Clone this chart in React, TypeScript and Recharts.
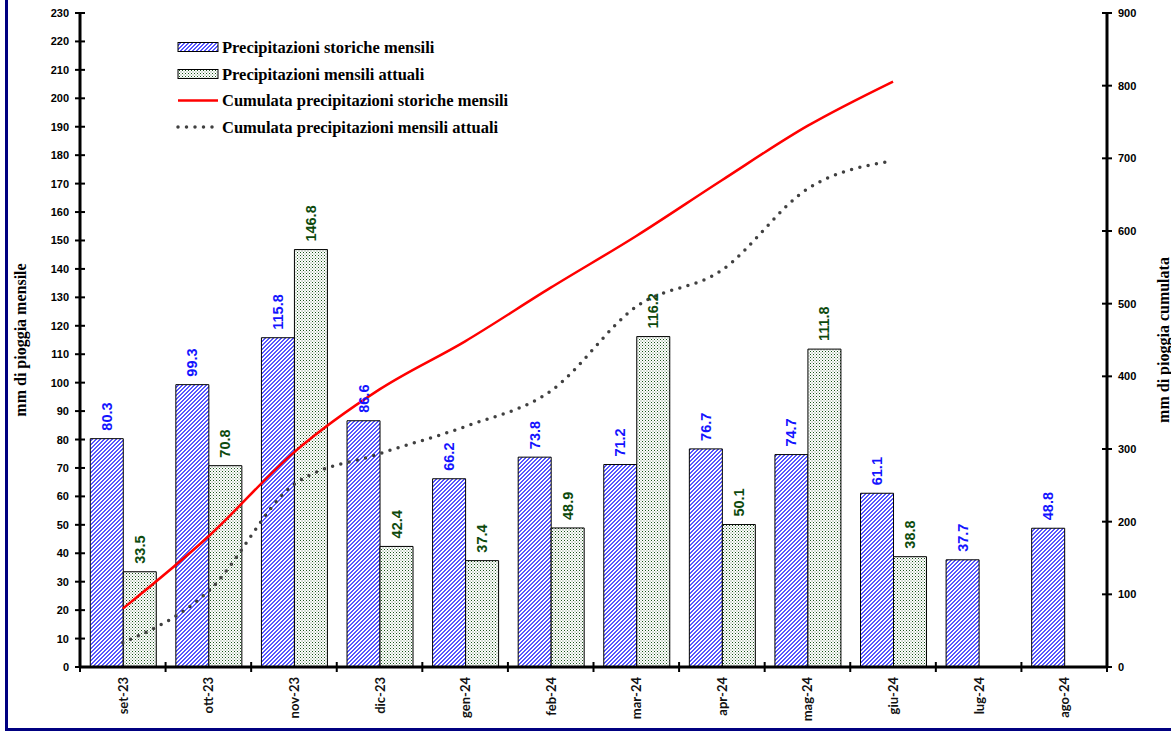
import { ComposedChart, Bar, Line, XAxis, YAxis, Legend, LabelList } from "recharts";

// dati mensili (mm)
const months = ["set-23", "ott-23", "nov-23", "dic-23", "gen-24", "feb-24", "mar-24", "apr-24", "mag-24", "giu-24", "lug-24", "ago-24"];
const storiche = [80.3, 99.3, 115.8, 86.6, 66.2, 73.8, 71.2, 76.7, 74.7, 61.1, 37.7, 48.8];
const attuali = [33.5, 70.8, 146.8, 42.4, 37.4, 48.9, 116.2, 50.1, 111.8, 38.8, null, null];
// cumulate (mm)
const cumStoriche = [80.3, 179.6, 295.4, 382.0, 448.2, 522.0, 593.2, 669.9, 744.6, 805.7, null, null];
const cumAttuali = [33.5, 104.3, 251.1, 293.5, 330.9, 379.8, 496.0, 546.1, 657.9, 696.7, null, null];

const leftTicks = [0, 10, 20, 30, 40, 50, 60, 70, 80, 90, 100, 110, 120, 130, 140, 150, 160, 170, 180, 190, 200, 210, 220, 230];
const rightTicks = [0, 100, 200, 300, 400, 500, 600, 700, 800, 900];

const legendItems = [
  "Precipitazioni storiche mensili",
  "Precipitazioni mensili attuali",
  "Cumulata precipitazioni storiche mensili",
  "Cumulata precipitazioni mensili attuali",
];

const W = 1171;
const H = 734;
const PLOT_L = 80;
const PLOT_R = 1107;
const PLOT_T = 13;
const PLOT_B = 667;
const BAND = (PLOT_R - PLOT_L) / months.length;

// pixel della trama diagonale "/" (cella 4x4)
const HATCH_PX = [[0, 2], [0, 3], [1, 1], [1, 2], [2, 0], [2, 1], [3, 0], [3, 3]];

const data = months.map((m, i) => ({
  month: m,
  storiche: storiche[i],
  attuali: attuali[i],
  cumS: cumStoriche[i],
  cumA: cumAttuali[i],
}));

const tickFont = { fontFamily: "'Liberation Sans', Arial, sans-serif", fontSize: 11, fontWeight: 700, fill: "#000" };

const LeftTick = (props: any) => {
  const { y, payload } = props;
  return (
    <g>
      <line x1={PLOT_L - 5} x2={PLOT_L + 5} y1={y} y2={y} stroke="#000" strokeWidth={2} />
      <text x={PLOT_L - 11} y={y} textAnchor="end" dominantBaseline="central" {...tickFont}>
        {payload.value}
      </text>
    </g>
  );
};

const RightTick = (props: any) => {
  const { y, payload } = props;
  return (
    <g>
      <line x1={PLOT_R - 5} x2={PLOT_R + 5} y1={y} y2={y} stroke="#000" strokeWidth={2} />
      <text x={PLOT_R + 11} y={y} textAnchor="start" dominantBaseline="central" {...tickFont}>
        {payload.value}
      </text>
    </g>
  );
};

const MonthTick = (props: any) => {
  const { x, payload } = props;
  const half = BAND / 2;
  const last = payload.value === months[months.length - 1];
  return (
    <g>
      <line x1={x - half} x2={x - half} y1={PLOT_B - 5} y2={PLOT_B + 5} stroke="#000" strokeWidth={2} />
      {last && <line x1={x + half} x2={x + half} y1={PLOT_B - 5} y2={PLOT_B + 5} stroke="#000" strokeWidth={2} />}
      <text
        transform={`translate(${x},${PLOT_B + 10}) rotate(-90)`}
        textAnchor="end"
        dominantBaseline="central"
        fontFamily="Lato, sans-serif"
        fontSize={13}
        fontWeight={700}
        fill="#111"
      >
        {payload.value}
      </text>
    </g>
  );
};

const makeValueLabel = (color: string) => (props: any) => {
  const { x, y, width, value } = props;
  if (value == null) return null;
  const cx = Number(x) + Number(width) / 2;
  const cy = Number(y) - 8;
  return (
    <text
      transform={`translate(${cx},${cy}) rotate(-90)`}
      textAnchor="start"
      dominantBaseline="central"
      fontFamily="'Liberation Sans', Arial, sans-serif"
      fontSize={14.5}
      fontWeight={700}
      fill={color}
    >
      {Number(value).toFixed(1)}
    </text>
  );
};

const serif = { fontFamily: "'Liberation Serif', 'Times New Roman', serif", fontWeight: 700, fill: "#000" };

// legenda in alto a sinistra
const LegendBox = () => {
  const rows = [13, 40, 66.5, 93];
  return (
    <svg width={400} height={110} style={{ display: "block" }}>
      <rect x={8} y={rows[0] - 4.5} width={40} height={9} fill="url(#hatchBlue)" stroke="#000" strokeWidth={1} />
      <rect x={8} y={rows[1] - 4.5} width={40} height={9} fill="url(#dotGreen)" stroke="#000" strokeWidth={1} />
      <line x1={8} x2={48} y1={rows[2]} y2={rows[2]} stroke="#ff0000" strokeWidth={2.5} />
      <line x1={8} x2={46} y1={rows[3]} y2={rows[3]} stroke="#404040" strokeWidth={3.5} strokeDasharray="0 8.5" strokeLinecap="round" />
      {legendItems.map((t, i) => (
        <text key={t} x={52} y={rows[i]} dominantBaseline="central" fontSize={16.5} {...serif}>
          {t}
        </text>
      ))}
    </svg>
  );
};

export default function App() {
  return (
    <div style={{ position: "absolute", left: 0, top: 0, width: W, height: H, overflow: "hidden", background: "#fff" }}>
      <div
        style={{
          position: "absolute",
          left: 5,
          top: -20,
          width: W + 40,
          height: H + 17,
          border: "3px solid #000080",
          boxSizing: "border-box",
        }}
      />
      <div style={{ position: "absolute", left: 0, top: 0 }}>
        <ComposedChart
          width={W}
          height={H}
          data={data}
          margin={{ top: PLOT_T, right: 0, bottom: 0, left: 0 }}
          barCategoryGap="12%"
          barGap={0}
        >
          <defs>
            <pattern id="hatchBlue" patternUnits="userSpaceOnUse" width={4} height={4}>
              <rect width={4} height={4} fill="#fff" />
              {HATCH_PX.map(([px, py]) => (
                <rect key={`${px}-${py}`} x={px} y={py} width={1} height={1} fill="#5656ff" shapeRendering="crispEdges" />
              ))}
            </pattern>
            <pattern id="dotGreen" patternUnits="userSpaceOnUse" width={3} height={3}>
              <rect width={3} height={3} fill="#fff" />
              <rect x={0} y={0} width={1} height={1} fill="#185218" />
              <rect x={1.5} y={1.5} width={1} height={1} fill="#5f835f" />
            </pattern>
          </defs>

          <XAxis
            dataKey="month"
            interval={0}
            height={H - PLOT_B}
            tickLine={false}
            tick={MonthTick}
            axisLine={{ stroke: "#000", strokeWidth: 3 }}
          />
          <YAxis
            yAxisId="left"
            width={PLOT_L}
            domain={[0, 230]}
            ticks={leftTicks}
            interval={0}
            tickLine={false}
            tick={LeftTick}
            axisLine={{ stroke: "#000", strokeWidth: 3 }}
            label={{ value: "mm di pioggia mensile", angle: -90, position: "center", dx: -20, fontSize: 16, ...serif }}
          />
          <YAxis
            yAxisId="right"
            orientation="right"
            width={W - PLOT_R}
            domain={[0, 900]}
            ticks={rightTicks}
            interval={0}
            tickLine={false}
            tick={RightTick}
            axisLine={{ stroke: "#000", strokeWidth: 3 }}
            label={{ value: "mm di pioggia cumulata", angle: -90, position: "center", dx: 24, fontSize: 16, ...serif }}
          />

          <Legend
            layout="vertical"
            align="center"
            verticalAlign="middle"
            wrapperStyle={{ left: 170, top: 34, width: 400, height: 110 }}
            content={LegendBox}
          />

          <Bar yAxisId="left" dataKey="storiche" fill="url(#hatchBlue)" stroke="#000" strokeWidth={1} isAnimationActive={false}>
            <LabelList dataKey="storiche" content={makeValueLabel("#1414ff")} />
          </Bar>
          <Bar yAxisId="left" dataKey="attuali" fill="url(#dotGreen)" stroke="#000" strokeWidth={1} isAnimationActive={false}>
            <LabelList dataKey="attuali" content={makeValueLabel("#0d4a0d")} />
          </Bar>

          <Line
            yAxisId="right"
            type="monotone"
            dataKey="cumS"
            stroke="#ff0000"
            strokeWidth={2.5}
            dot={false}
            activeDot={false}
            isAnimationActive={false}
          />
          <Line
            yAxisId="right"
            type="monotone"
            dataKey="cumA"
            stroke="#404040"
            strokeWidth={3.5}
            strokeDasharray="0 8.5"
            strokeLinecap="round"
            dot={false}
            activeDot={false}
            isAnimationActive={false}
          />
        </ComposedChart>
      </div>
    </div>
  );
}
